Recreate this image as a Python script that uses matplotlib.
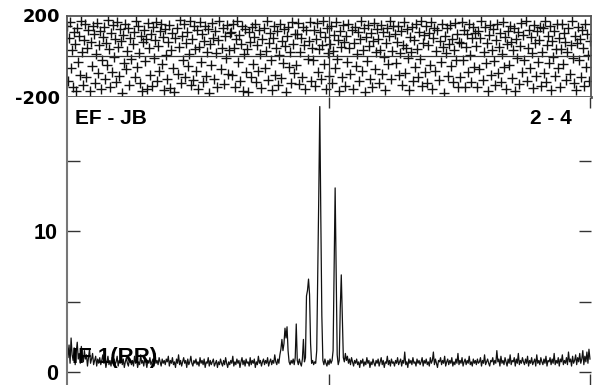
import numpy as np
import matplotlib
matplotlib.use("Agg")
import matplotlib.pyplot as plt

#---data---#
n_chan = 512
mid_chan = 256

# amplitude per channel (lower panel)
amp = [
    2.2, 1.0, 1.9, 0.6, 2.4, 1.2, 0.8, 1.7, 0.5, 1.4, 2.1, 0.9, 1.3, 0.6, 1.8, 1.1,
    0.7, 1.5, 0.9, 1.2, 0.4, 1.0, 1.6, 0.6, 0.9, 1.3, 0.5, 0.8, 1.1, 0.4, 0.9, 0.6,
    1.0, 0.5, 0.8, 1.2, 0.6, 0.9, 0.3, 0.7, 1.1, 0.5, 0.8, 0.4, 1.0, 0.6, 0.9, 0.5,
    0.7, 1.1, 0.4, 0.8, 0.6, 1.2, 0.5, 0.9, 0.3, 0.7, 1.0, 0.6, 0.4, 0.9, 0.7, 0.5,
    0.8, 0.4, 1.1, 0.6, 0.9, 0.3, 0.7, 0.5, 1.2, 0.6, 0.8, 0.4, 0.9, 0.7, 0.3, 0.8,
    0.6, 1.0, 0.5, 0.7, 0.9, 0.4, 1.3, 0.6, 0.8, 0.5, 1.0, 0.7, 0.4, 0.9, 0.6, 0.8,
    0.5, 0.9, 0.7, 1.1, 0.4, 0.8, 0.6, 1.0, 0.5, 0.7, 0.3, 0.9, 0.6, 1.2, 0.5, 0.8,
    0.4, 0.7, 1.0, 0.6, 0.8, 0.3, 0.9, 0.5, 0.7, 1.1, 0.6, 0.4, 0.8, 0.6, 0.9, 0.5,
    0.7, 0.4, 1.0, 0.6, 0.8, 0.5, 0.9, 0.3, 0.7, 0.6, 1.0, 0.4, 0.8, 0.5, 0.7, 0.9,
    0.4, 0.6, 0.8, 0.3, 0.7, 0.5, 0.9, 0.6, 0.4, 0.8, 0.5, 1.0, 0.6, 0.3, 0.7, 0.5,
    0.8, 0.6, 1.1, 0.4, 0.7, 0.5, 0.9, 0.6, 0.8, 0.3, 0.7, 1.0, 0.5, 0.8, 0.4, 0.9,
    0.6, 0.7, 0.4, 1.0, 0.5, 0.8, 0.6, 0.9, 0.3, 0.7, 0.5, 1.1, 0.6, 0.8, 0.4, 0.7,
    0.9, 0.5, 0.8, 0.6, 1.0, 0.4, 0.7, 0.9, 0.5, 0.8, 0.6, 1.2, 0.7, 0.5, 0.9, 0.6,
    1.2, 1.6, 2.3, 1.5, 2.0, 3.1, 2.4, 3.2, 1.5, 0.7, 0.5, 0.8, 0.6, 0.9, 0.5, 1.0,
    3.4, 0.8, 0.5, 0.9, 0.6, 0.4, 0.9, 2.3, 0.7, 1.0, 5.4, 5.8, 6.6, 5.5, 2.0, 0.6,
    0.8, 0.5, 0.7, 0.6, 1.5, 7.0, 12.5, 18.9, 11.0, 4.0, 0.8, 0.5, 0.9, 0.6, 0.4, 0.8,
    0.5, 0.9, 0.6, 0.8, 1.5, 7.5, 13.1, 7.0, 1.2, 0.5, 0.8, 4.5, 6.9, 4.0, 1.0, 0.7,
    1.3, 0.8, 1.1, 0.6, 0.9, 0.5, 1.0, 0.7, 0.4, 0.8, 0.6, 0.9, 0.5, 0.7, 0.3, 0.8,
    0.6, 0.9, 0.4, 0.7, 0.5, 1.0, 0.6, 0.8, 0.3, 0.7, 0.5, 0.9, 0.6, 0.4, 0.8, 0.6,
    0.9, 0.4, 0.7, 1.0, 0.5, 0.8, 0.3, 0.7, 0.6, 1.1, 0.5, 0.8, 0.4, 0.9, 0.6, 0.7,
    0.4, 0.8, 0.6, 1.0, 0.5, 0.7, 0.9, 0.4, 0.8, 0.6, 1.4, 0.5, 0.7, 0.3, 0.9, 0.6,
    0.8, 0.5, 1.0, 0.6, 0.7, 0.4, 0.9, 0.6, 0.8, 0.5, 0.7, 1.0, 0.4, 0.8, 0.6, 0.9,
    0.5, 0.7, 0.4, 1.0, 0.6, 0.8, 1.4, 0.5, 0.9, 0.6, 0.3, 0.8, 0.7, 1.0, 0.5, 0.8,
    0.6, 1.1, 0.4, 0.7, 0.9, 0.5, 0.8, 0.6, 1.0, 0.4, 0.7, 0.5, 0.9, 0.6, 1.3, 0.5,
    0.8, 0.6, 1.0, 0.4, 0.7, 0.9, 0.5, 0.8, 0.6, 1.1, 0.5, 0.7, 0.4, 0.9, 0.6, 0.8,
    0.5, 0.9, 0.6, 0.7, 1.0, 0.4, 0.8, 0.6, 1.2, 0.5, 0.7, 0.9, 0.6, 0.4, 0.8, 0.7,
    1.0, 0.5, 0.8, 0.6, 1.5, 0.7, 0.9, 0.4, 1.1, 0.6, 0.8, 0.5, 1.0, 0.7, 0.4, 0.9,
    0.6, 1.2, 0.5, 0.8, 0.7, 1.0, 0.4, 0.9, 0.6, 1.3, 0.5, 0.8, 0.6, 1.0, 0.7, 0.5,
    0.9, 0.6, 1.1, 0.4, 0.8, 0.6, 1.0, 0.5, 0.7, 0.9, 0.4, 1.2, 0.6, 0.8, 0.5, 1.0,
    0.7, 0.5, 0.9, 0.6, 1.1, 0.4, 0.8, 0.7, 1.0, 0.5, 0.9, 0.6, 1.3, 0.5, 0.8, 0.6,
    1.0, 0.4, 0.9, 0.7, 1.2, 0.5, 0.8, 0.6, 1.0, 0.5, 1.4, 0.7, 0.9, 0.4, 1.1, 0.6,
    0.8, 1.2, 0.5, 1.0, 0.7, 1.3, 0.6, 0.9, 1.5, 0.5, 1.1, 0.7, 1.4, 0.6, 1.6, 0.9,
]

# phase per channel (upper panel), degrees
phase = [
    150, -120, 90, 170, -60, 30, -150, 120, 60, -170, 140, -30, 100, -90, 175, 20,
    -140, 80, 160, -100, 40, 130, -170, 70, -50, 150, 110, -130, 10, 165, -80, 55,
    125, -160, -20, 95, 145, -110, 65, -45, 180, 35, -150, 115, -75, 155, -5, 85,
    -125, 170, 45, -95, 135, 75, -180, 105, -35, 160, -65, 25, 140, -140, 90, -15,
    60, 120, -100, 175, -55, 150, 15, -130, 100, -170, 70, 130, -25, 85, -160, 165,
    40, -90, 110, -145, 145, -10, 80, 170, -120, 50, -70, 125, 160, -40, 95, -165,
    135, 5, -110, 70, 155, -155, 30, 115, -60, -175, 90, 140, -85, 45, 180, -130,
    100, -20, 160, -100, 65, 120, -50, 10, 175, -140, 85, -115, 150, 35, -70, 130,
    -160, 45, 170, -30, 110, -125, 75, 150, -95, 20, 135, -180, 60, -45, 165, 90,
    -110, 125, 15, -150, 80, 175, -65, 40, 140, -135, 100, -10, 155, -85, 30, 115,
    120, -90, 160, 40, -150, 85, 175, -30, 105, -120, 60, 150, -170, 10, 135, -75,
    35, -175, 120, 70, -100, 145, -40, 95, 160, -125, 55, -70, 130, 10, -155, 85,
    140, -60, 25, 175, -115, 65, 115, -20, -165, 90, 150, -90, 40, 125, -140, 5,
    160, -105, 75, -35, 135, 50, -175, 100, 145, -55, 20, -130, 170, 60, -80, 110,
    -45, 110, 165, -135, 20, 90, -100, 145, 55, -160, 130, -15, 75, 170, -120, 40,
    -20, 130, -145, 85, 165, -75, 35, 120, -110, 55, 175, -40, 95, -160, 140, 15,
    -95, 60, 150, -130, 25, 105, -60, 170, -15, 80, -170, 125, 45, -100, 155, 70,
    -145, 100, -30, 160, 40, -85, 130, -160, 65, 145, -50, 10, 120, -120, 85, 175,
    -70, 30, 140, -175, 95, -25, 155, 50, -110, 115, -150, 75, 165, -65, 20, 135,
    85, -130, 30, 155, -85, 120, -5, -165, 65, 140, -40, 100, 175, -110, 25, 150,
    110, -35, 70, 150, -90, 15, 125, -140, 55, 170, -80, 40, 135, -10, -165, 95,
    20, 145, -120, 80, -55, 160, 35, -100, 120, -15, 175, -145, 65, 105, -75, 150,
    -130, 55, 115, -45, 170, -160, 90, 140, -70, 25, 130, -115, 75, -30, 160, 45,
    -180, 100, 15, 140, -95, 60, 155, -50, 85, -125, 30, 165, -20, 110, -150, 70,
    -100, 65, 170, -20, 130, -150, 45, 110, -75, 160, 5, -125, 90, 145, -55, 115,
    50, -150, 125, -65, 90, 175, -115, 20, 145, -35, 65, -170, 105, 155, -90, 30,
    135, -25, -140, 80, 160, -80, 45, 115, -125, 10, 170, -55, 95, -160, 60, 125,
    -45, 150, 70, -105, 30, 140, -170, 85, -10, 120, -135, 50, 165, -75, 105, -20,
    175, -120, 40, 130, -60, 95, 15, -155, 155, 65, -95, 125, -30, 80, 145, -145,
    20, 140, -80, 175, -125, 55, 100, -35, 150, -165, 75, -5, 125, -95, 35, 160,
    -60, 90, -150, 35, 160, -40, 115, 70, -115, 20, 140, -85, 55, 175, -10, -130,
    100, -165, 65, 145, -20, 85, -100, 130, 40, -145, 160, -55, 110, 5, -120, 75,
]

baseline_label = "EF - JB"
scan_label = "2 - 4"
if_label = "IF 1(RR)"
#---data---#

chan = np.arange(n_chan)
W, H = 593, 385
fig = plt.figure(figsize=(W / 100, H / 100), dpi=100)

left = 67 / W
width = (591 - 67) / W
ax_ph = fig.add_axes([left, (H - 97) / H, width, (97 - 15.5) / H])
ax_amp = fig.add_axes([left, 0.0, width, (H - 97) / H])

frame_col = "#555555"

# phase panel
ax_ph.plot(chan, phase, linestyle="none", marker="+", ms=7.5, mew=1.0, color="#111111")
ax_ph.axhline(0, color="#333333", lw=0.9)
ax_ph.axvline(mid_chan, color="#333333", lw=0.9)
ax_ph.set_xlim(0, n_chan)
ax_ph.set_ylim(-200, 200)
ax_ph.set_xticks([])
ax_ph.set_yticks([200, -200])
ax_ph.set_yticklabels(["200", "-200"], fontsize=13, fontweight="bold", family="DejaVu Sans")
ax_ph.tick_params(axis="y", length=0, pad=5)
for s in ax_ph.spines.values():
    s.set_color(frame_col)
    s.set_linewidth(1.3)
ax_ph.spines["bottom"].set_linewidth(2)

# amplitude panel
ax_amp.plot(chan, amp, color="#111111", lw=0.9)
ax_amp.set_xlim(0, n_chan)
ax_amp.set_ylim(-0.95, 19.58)
for k in ["top", "right", "bottom"]:
    ax_amp.spines[k].set_visible(False)
ax_amp.spines["left"].set_color("#777777")
ax_amp.spines["left"].set_linewidth(1.5)
ax_amp.set_yticks([0, 5, 10, 15])
ax_amp.set_yticklabels(["0", "", "10", ""], fontsize=15.5, fontweight="bold", family="Liberation Sans")
ax_amp.tick_params(axis="y", direction="in", length=9, width=1, color="#333333",
                   right=True, pad=6.5)
ax_amp.set_xticks([mid_chan, n_chan - 1])
ax_amp.set_xticklabels([])
ax_amp.tick_params(axis="x", direction="in", length=8, width=1, color="#333333",
                   top=True, bottom=True)

txt = dict(fontsize=15, fontweight="bold", family="Liberation Sans", va="center")
fig.text(75 / W, 1 - 118 / H, baseline_label, ha="left", **txt)
fig.text(572 / W, 1 - 118 / H, scan_label, ha="right", **txt)
fig.text(72 / W, 1 - 357 / H, if_label, ha="left", fontsize=16, fontweight="bold",
         family="Liberation Sans", va="center")

fig.savefig("out.png", dpi=100)
